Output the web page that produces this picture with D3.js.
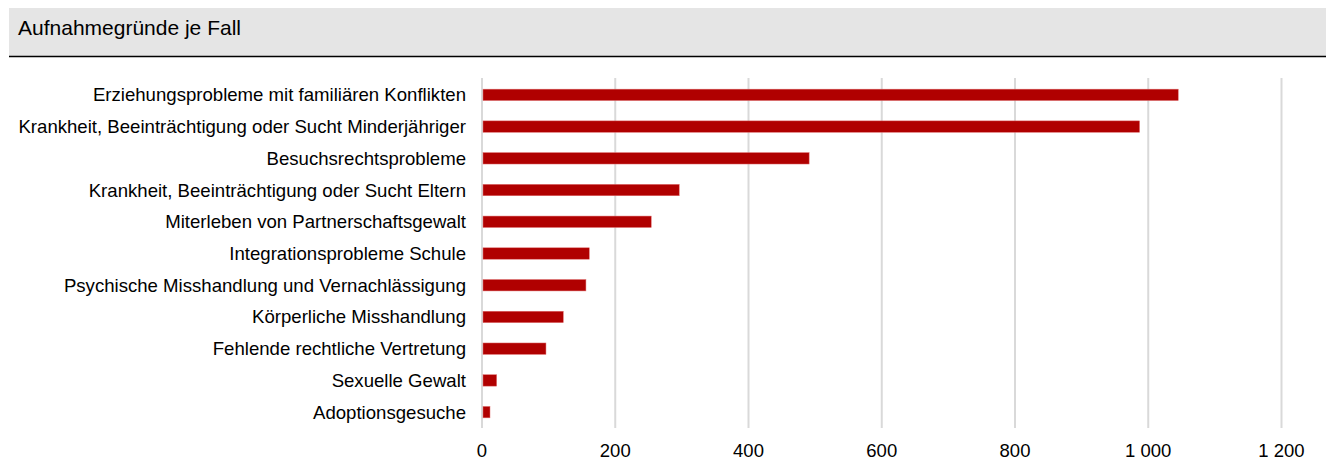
<!DOCTYPE html>
<html>
<head>
<meta charset="utf-8">
<script src="https://cdn.jsdelivr.net/npm/d3@7"></script>
<style>
  body { margin: 0; background: #fff; font-family: "Liberation Sans", Arial, sans-serif; }
</style>
</head>
<body>
<svg id="vis" width="1326" height="460"></svg>
<script>
// data
const categories = [
  "Erziehungsprobleme mit familiären Konflikten",
  "Krankheit, Beeinträchtigung oder Sucht Minderjähriger",
  "Besuchsrechtsprobleme",
  "Krankheit, Beeinträchtigung oder Sucht Eltern",
  "Miterleben von Partnerschaftsgewalt",
  "Integrationsprobleme Schule",
  "Psychische Misshandlung und Vernachlässigung",
  "Körperliche Misshandlung",
  "Fehlende rechtliche Vertretung",
  "Sexuelle Gewalt",
  "Adoptionsgesuche"
];
const values = [1045, 987, 491, 296, 254, 161, 156, 122, 96, 22, 12];
const ticks = [0, 200, 400, 600, 800, 1000, 1200];
const title = "Aufnahmegründe je Fall";

let vis = d3.select('#vis');

// header band
vis.append('rect')
  .attr('x', 9).attr('y', 8)
  .attr('width', 1317).attr('height', 48)
  .attr('fill', '#e5e5e5');
vis.append('line')
  .attr('x1', 9).attr('x2', 1326)
  .attr('y1', 56.5).attr('y2', 56.5)
  .attr('stroke', '#000').attr('stroke-width', 1.3);
vis.append('text')
  .attr('x', 18).attr('y', 35)
  .attr('font-size', 21)
  .attr('fill', '#000')
  .text(title);

const x = d3.scaleLinear().domain([0, 1200]).range([482, 1281.5]);
const y = d3.scaleBand().domain(categories).range([79, 428]).paddingInner(0.64).paddingOuter(0.32);

// grid
vis.append('g')
  .selectAll('line')
  .data(ticks)
  .enter()
  .append('line')
  .attr('x1', d => x(d)).attr('x2', d => x(d))
  .attr('y1', 78).attr('y2', 428)
  .attr('stroke', '#d9d9d9')
  .attr('stroke-width', 2);

// bars
vis.append('g')
  .selectAll('rect')
  .data(values)
  .enter()
  .append('rect')
  .attr('x', x(0) + 1)
  .attr('y', (d, i) => y(categories[i]))
  .attr('width', d => x(d) - x(0) - 1)
  .attr('height', y.bandwidth())
  .attr('fill', '#b00000')
  .attr('stroke', '#e07070')
  .attr('stroke-width', 0.5);

// category labels
vis.append('g')
  .selectAll('text')
  .data(categories)
  .enter()
  .append('text')
  .attr('x', 466)
  .attr('y', d => y(d) + y.bandwidth() / 2)
  .attr('dy', '0.35em')
  .attr('text-anchor', 'end')
  .attr('font-size', 18.6)
  .attr('fill', '#000')
  .text(d => d);

// tick labels
const fmt = d => d3.format(',')(d).replace(/,/g, ' ');
vis.append('g')
  .selectAll('text')
  .data(ticks)
  .enter()
  .append('text')
  .attr('x', d => x(d))
  .attr('y', 457)
  .attr('text-anchor', 'middle')
  .attr('font-size', 18.5)
  .attr('fill', '#000')
  .text(fmt);
</script>
</body>
</html>
